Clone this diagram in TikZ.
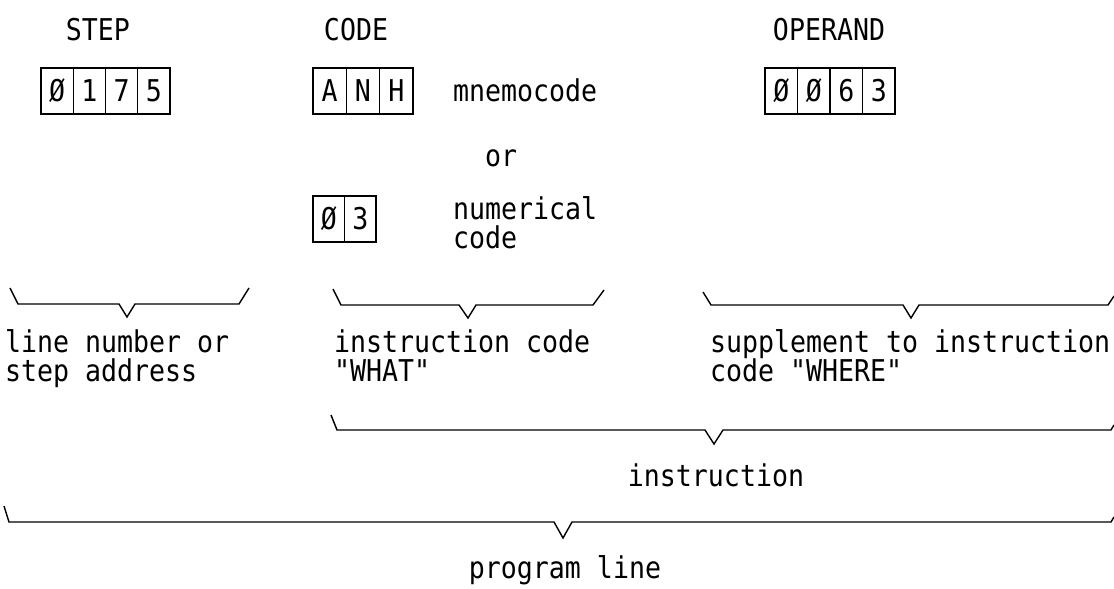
\documentclass[tikz,border=0pt]{standalone}
\usepackage{fontspec}
\newfontfamily\plotfont[FakeStretch=0.886]{DejaVu Sans Mono}
\begin{document}
\begin{tikzpicture}[x=1pt,y=-1pt,
  plot/.style={font=\plotfont\fontsize{30}{29}\selectfont},
  txt/.style={plot, inner sep=0pt, anchor=base west},
  head/.style={plot, inner sep=0pt, anchor=base},
  cell/.style={plot, draw, line width=1.3pt, inner sep=0pt, outer sep=0pt,
               minimum height=46pt, minimum width=#1},
  cell/.default=32.25pt,
  brace/.style={line width=1.4pt, line join=miter}]
\useasboundingbox (0,0) rectangle (1114,589);

% column headings
\node[head] (hstep) at (98,40) {STEP};
\node[head] (hcode) at (356,40) {CODE};
\node[head] (hoper) at (829,40) {OPERAND};

% step address cells
\node[cell, anchor=north west] (s1) at (41,68) {Ø};
\node[cell, anchor=west] (s2) at (s1.east) {1};
\node[cell, anchor=west] (s3) at (s2.east) {7};
\node[cell, anchor=west] (s4) at (s3.east) {5};

% mnemonic code cells
\node[cell=33.3pt, anchor=north west] (c1) at (313,68) {A};
\node[cell=33.3pt, anchor=west] (c2) at (c1.east) {N};
\node[cell=33.3pt, anchor=west] (c3) at (c2.east) {H};
\node[txt] (mnem) at (453,101) {mnemocode};

% operand cells
\node[cell=32.5pt, anchor=north west] (o1) at (765,68) {Ø};
\node[cell=32.5pt, anchor=west] (o2) at (o1.east) {Ø};
\node[cell=32.5pt, anchor=west] (o3) at (o2.east) {6};
\node[cell=32.5pt, anchor=west] (o4) at (o3.east) {3};

\node[head] (or) at (501,166) {or};

% numerical code cells
\node[cell=31.5pt, anchor=north west] (n1) at (313,196) {Ø};
\node[cell=31.5pt, anchor=west] (n2) at (n1.east) {3};
\node[txt] (num1) at (453,219) {numerical};
\node[txt] (num2) at (453,248) {code};

% braces under the three fields
\draw[brace] (10,288) -- (18,304) -- (119,304) -- (127,317) -- (135,304)
  -- (239,304) -- (249,288);
\draw[brace] (333,289) -- (341,305) -- (459,305) -- (468,318) -- (476,305)
  -- (593,305) -- (604,290);
\draw[brace] (703,292) -- (711,305) -- (903,305) -- (911,318) -- (919,305)
  -- (1108,305) -- (1114,296);

\node[txt] (l1a) at (5,352) {line number or};
\node[txt] (l1b) at (5,381) {step address};
\node[txt] (l2a) at (334,352) {instruction code};
\node[txt] (l2b) at (334,381) {"WHAT"};
\node[txt] (l3a) at (710,352) {supplement to instruction};
\node[txt] (l3b) at (710,381) {code "WHERE"};

% brace for the instruction
\draw[brace] (331,415) -- (337,430) -- (705,430) -- (714,444) -- (723,430)
  -- (1111,430) -- (1114,425);
\node[head] (instr) at (716,486) {instruction};

% brace for the whole program line
\draw[brace] (4,506) -- (9,522) -- (554,522) -- (563,538) -- (572,522)
  -- (1111,522) -- (1114,517);
\node[head] (pline) at (565,578) {program line};
\end{tikzpicture}
\end{document}
